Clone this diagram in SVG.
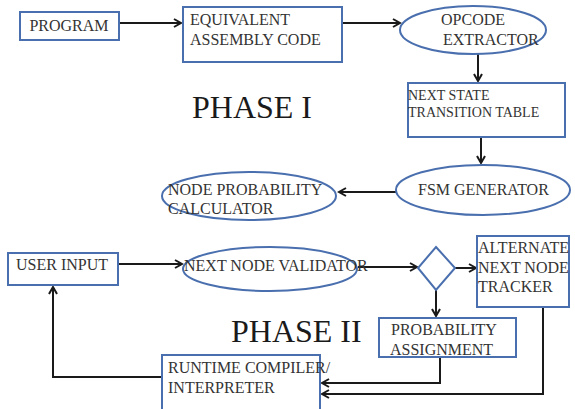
<svg xmlns="http://www.w3.org/2000/svg" width="575" height="409" viewBox="0 0 575 409">
<style>
.n{fill:#fff;stroke:#4a6fae;stroke-width:2}
.t{font-family:"Liberation Serif",serif;font-size:16px;fill:#333}
.ts{font-family:"Liberation Serif",serif;font-size:14px;fill:#333}
.ph{font-family:"Liberation Serif",serif;font-size:32px;fill:#1a1a1a}
.c{fill:none;stroke:#1a1a1a;stroke-width:2}
</style>
<defs>
<marker id="a" markerWidth="10" markerHeight="10" refX="8" refY="5" orient="auto" markerUnits="userSpaceOnUse">
<path d="M1,1 L8,5 L1,9" fill="none" stroke="#1a1a1a" stroke-width="2"/>
</marker>
</defs>
<rect width="575" height="409" fill="#fff"/>
<text class="ph" x="192" y="118">PHASE I</text>
<text class="ph" x="231" y="342">PHASE II</text>
<g id="connectors">
<path class="c" d="M119,23 H181" marker-end="url(#a)"/>
<path class="c" d="M342,23 H400" marker-end="url(#a)"/>
<path class="c" d="M478,53 V81" marker-end="url(#a)"/>
<path class="c" d="M481,137 V163" marker-end="url(#a)"/>
<path class="c" d="M396,192 H339" marker-end="url(#a)"/>
<path class="c" d="M118,264 H182" marker-end="url(#a)"/>
<path class="c" d="M358,267 H417" marker-end="url(#a)"/>
<path class="c" d="M455,268 H476" marker-end="url(#a)"/>
<path class="c" d="M436,290 V316" marker-end="url(#a)"/>
<path class="c" d="M440,357 V383 H322" marker-end="url(#a)"/>
<path class="c" d="M543,307 V394 H322" marker-end="url(#a)"/>
<path class="c" d="M162,377 H53 V287" marker-end="url(#a)"/>
</g>
<g id="program">
<rect class="n" x="20" y="12" width="99" height="28"/>
<text class="t" x="69" y="31" text-anchor="middle">PROGRAM</text>
</g>
<g id="equivalent">
<rect class="n" x="183" y="7" width="159" height="55"/>
<text class="t" x="190" y="25">EQUIVALENT</text>
<text class="t" x="190" y="45">ASSEMBLY CODE</text>
</g>
<g id="opcode">
<ellipse class="n" cx="473" cy="30" rx="73" ry="24"/>
<text class="t" x="441" y="25">OPCODE</text>
<text class="t" x="443" y="45">EXTRACTOR</text>
</g>
<g id="nst">
<rect class="n" x="408" y="83" width="157" height="54"/>
<text class="ts" x="408" y="100">NEXT STATE</text>
<text class="ts" x="408" y="117">TRANSITION TABLE</text>
</g>
<g id="fsm">
<ellipse class="n" cx="483" cy="190" rx="87" ry="25"/>
<text class="t" x="418" y="195">FSM GENERATOR</text>
</g>
<g id="npc">
<ellipse class="n" cx="249" cy="196" rx="87" ry="24"/>
<text class="t" x="168" y="195">NODE PROBABILITY</text>
<text class="t" x="168" y="214">CALCULATOR</text>
</g>
<g id="userinput">
<rect class="n" x="8" y="253" width="110" height="32"/>
<text class="t" x="16" y="270">USER INPUT</text>
</g>
<g id="validator">
<ellipse class="n" cx="270" cy="269" rx="87" ry="22"/>
<text class="t" x="184" y="271">NEXT NODE VALIDATOR</text>
</g>
<g id="decision">
<polygon class="n" points="436,247 455,268 436,290 418,268"/>
</g>
<g id="alternate">
<rect class="n" x="477" y="236" width="92" height="71"/>
<text class="t" x="478" y="253">ALTERNATE</text>
<text class="t" x="478" y="273">NEXT NODE</text>
<text class="t" x="478" y="292">TRACKER</text>
</g>
<g id="probability">
<rect class="n" x="379" y="318" width="137" height="39"/>
<text class="t" x="391" y="335">PROBABILITY</text>
<text class="t" x="390" y="355">ASSIGNMENT</text>
</g>
<g id="runtime">
<rect class="n" x="162" y="355" width="158" height="60"/>
<text class="t" x="168" y="373">RUNTIME COMPILER/</text>
<text class="t" x="168" y="393">INTERPRETER</text>
</g>
</svg>
